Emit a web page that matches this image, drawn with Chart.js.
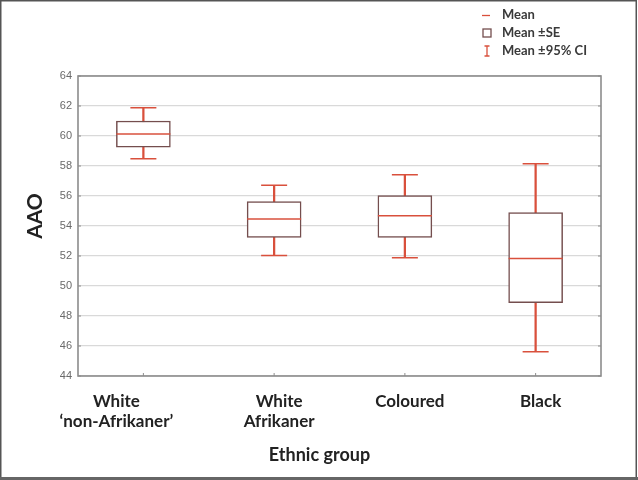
<!DOCTYPE html>
<html>
<head>
<meta charset="utf-8">
<script src="https://cdn.jsdelivr.net/npm/chart.js@4/dist/chart.umd.min.js"></script>
<style>
  body { margin: 0; background: #fff; }
  canvas { display: block; }
</style>
</head>
<body>
<canvas id="aao" width="638" height="480"></canvas>
<script>
    // 민족 그룹별 AAO (평균, ±SE, ±95% CI)
    const groups = ['White ‘non-Afrikaner’', 'White Afrikaner', 'Coloured', 'Black'];
    const groupLines = [['White', '‘non-Afrikaner’'], ['White', 'Afrikaner'], ['Coloured'], ['Black']];
    const means = [60.13, 54.47, 54.69, 51.84];
    const seLow = [59.25, 53.24, 53.24, 48.89];
    const seHigh = [61.00, 55.62, 56.02, 54.89];
    const ciLow = [58.49, 52.04, 51.89, 45.62];
    const ciHigh = [61.89, 56.71, 57.42, 58.15];
    const yTicks = [44, 46, 48, 50, 52, 54, 56, 58, 60, 62, 64];

    const RED = '#d9503c';
    const BOX = '#744e4e';

    // 라벨 위치 보정 (원본은 첫 라벨만 왼쪽으로 치우침)
    const labelShift = [-27, 5, 5, 5];

    const decor = {
        id: 'decor',
        beforeDraw(chart) {
            const c = chart.ctx;
            c.save();
            c.fillStyle = '#fff';
            c.fillRect(0, 0, chart.width, chart.height);
            c.restore();
        },
        afterDatasetsDraw(chart) {
            const c = chart.ctx;
            const a = chart.chartArea;
            const x = chart.scales.x, y = chart.scales.y;
            c.save();
            // 플롯 테두리
            c.strokeStyle = '#8c8c8c';
            c.lineWidth = 1.6;
            c.strokeRect(a.left, a.top, a.right - a.left, a.bottom - a.top);
            // 작은 눈금
            c.lineWidth = 1;
            yTicks.forEach(v => {
                const py = y.getPixelForValue(v);
                c.beginPath();
                c.moveTo(a.left, py); c.lineTo(a.left + 3, py);
                c.moveTo(a.right, py); c.lineTo(a.right - 3, py);
                c.stroke();
            });
            groups.forEach((g, i) => {
                const px = x.getPixelForValue(i);
                c.beginPath();
                c.moveTo(px, a.bottom); c.lineTo(px, a.bottom - 3);
                c.stroke();
            });

            // x 라벨
            c.fillStyle = '#222';
            c.textAlign = 'center';
            c.textBaseline = 'alphabetic';
            c.font = 'bold 17px Lato';
            groupLines.forEach((lines, i) => {
                const px = x.getPixelForValue(i) + labelShift[i];
                lines.forEach((t, k) => c.fillText(t, px, 407 + k * 20));
            });
            c.font = 'bold 18px Lato';
            c.fillText('Ethnic group', (a.left + a.right) / 2 - 20, 461);

            // y 제목
            c.save();
            c.translate(35, 216);
            c.rotate(-Math.PI / 2);
            c.font = 'bold 21px Lato';
            c.textBaseline = 'middle';
            c.fillText('AAO', 0, 0);
            c.restore();

            // 범례
            c.font = 'bold 13px Lato';
            c.textAlign = 'left';
            c.textBaseline = 'middle';
            c.fillStyle = '#3a3a3a';
            c.fillText('Mean', 502, 15);
            c.fillText('Mean ±SE', 502, 33);
            c.fillText('Mean ±95% CI', 502, 51);
            c.strokeStyle = RED;
            c.lineWidth = 1.3;
            c.beginPath(); c.moveTo(482, 15.5); c.lineTo(490, 15.5); c.stroke();
            c.strokeStyle = BOX;
            c.strokeRect(483, 29, 8, 8);
            c.strokeStyle = RED;
            c.beginPath();
            c.moveTo(487, 46); c.lineTo(487, 56);
            c.moveTo(484.5, 46); c.lineTo(489.5, 46);
            c.moveTo(484.5, 56); c.lineTo(489.5, 56);
            c.stroke();

            // 바깥 틀
            c.strokeStyle = '#555';
            c.lineWidth = 1.5;
            c.strokeRect(0.75, 0.75, chart.width - 2.5, chart.height - 2);
            c.fillStyle = '#666';
            c.fillRect(0, chart.height - 3, chart.width, 3);
            c.restore();
        }
    };

    const ctx = document.getElementById('aao').getContext('2d');
    const aaoChart = new Chart(ctx, {
        data: {
            labels: groups,
            datasets: [
            {
                type: 'line',
                label: 'Mean',
                data: means,
                showLine: false,
                pointStyle: 'line',
                pointRadius: 27,
                borderColor: RED,
                borderWidth: 1.5,
                order: 1
            },
            {
                type: 'line',
                label: 'CI high',
                data: ciHigh,
                showLine: false,
                pointStyle: 'line',
                pointRadius: 13,
                borderColor: RED,
                borderWidth: 1.5,
                order: 1
            },
            {
                type: 'line',
                label: 'CI low',
                data: ciLow,
                showLine: false,
                pointStyle: 'line',
                pointRadius: 13,
                borderColor: RED,
                borderWidth: 1.5,
                order: 1
            },
            {
                type: 'bar',
                label: 'Mean ±SE',
                data: seLow.map((v, i) => [v, seHigh[i]]),
                backgroundColor: '#fff',
                borderColor: BOX,
                borderWidth: 1.5,
                borderSkipped: false,
                barThickness: 54,
                grouped: false,
                order: 2
            },
            {
                type: 'bar',
                label: 'Mean ±95% CI',
                data: ciLow.map((v, i) => [v, ciHigh[i]]),
                backgroundColor: RED,
                borderWidth: 0,
                barThickness: 1.6,
                grouped: false,
                order: 3
            }
            ]
        },
        options: {
            responsive: false,
            animation: false,
            layout: {
                padding: { left: 0, top: 76, right: 37, bottom: 104 }
            },
            plugins: {
                legend: { display: false },
                tooltip: { enabled: false }
            },
            scales: {
                x: {
                    type: 'category',
                    offset: true,
                    grid: { display: false },
                    border: { display: false },
                    ticks: { display: false },
                    afterFit: s => { s.height = 0; }
                },
                y: {
                    min: 44,
                    max: 64,
                    afterBuildTicks: s => { s.ticks = yTicks.map(v => ({ value: v })); },
                    grid: { color: '#d9d9d9', lineWidth: 1.2, drawTicks: false },
                    border: { display: false },
                    ticks: {
                        padding: 6,
                        color: '#6a6a6a',
                        font: { family: 'Liberation Sans', size: 11 }
                    },
                    afterFit: s => { s.width = 78; }
                }
            }
        },
        plugins: [decor]
    });
</script>
</body>
</html>
